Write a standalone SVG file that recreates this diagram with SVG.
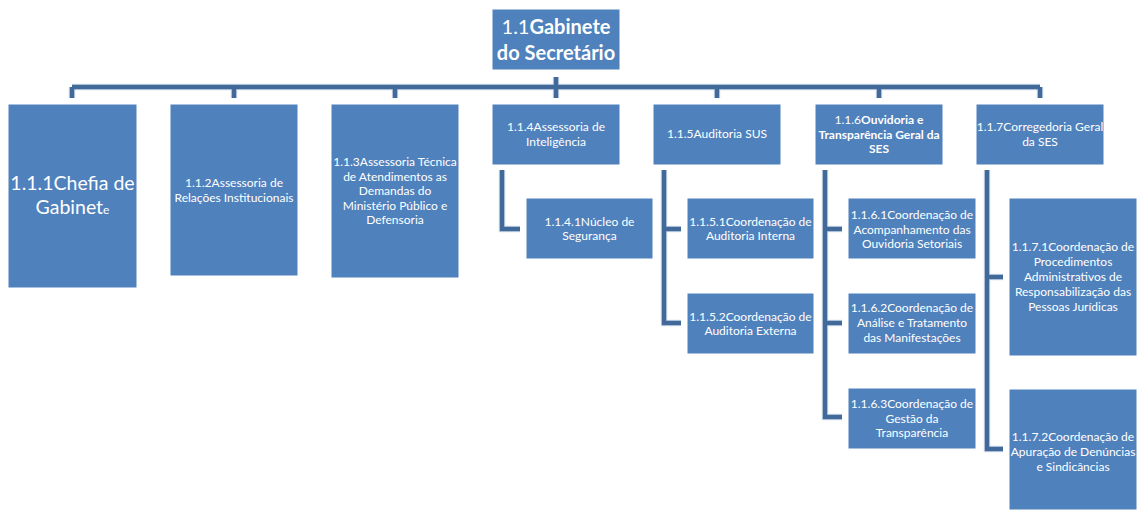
<svg xmlns="http://www.w3.org/2000/svg" width="1139" height="510" viewBox="0 0 1139 510">
<style>
.box{fill:#4F81BD;stroke:#FFFFFF;stroke-width:1}
.t{font-family:Lato,"Open Sans","Liberation Sans",sans-serif;font-size:12px;fill:#FFFFFF;text-anchor:middle}
.b{font-weight:bold}
.c{fill:none;stroke:#41699A;stroke-width:4.5;stroke-linejoin:miter;stroke-linecap:butt}
.ch{fill:none;stroke:#D3DEEC;stroke-width:6.5}
</style>
<rect width="1139" height="510" fill="#FFFFFF"/>
<g id="connectors">
<path class="ch" d="M72,87 H1040 M556,77 V98 M72,87 V98 M234,87 V98 M395,87 V98 M717,87 V98 M879,87 V98 M1040,87 V98 M502,170 V229 H520 M664,170 V323 H681 M664,229 H681 M825,170 V417 H842 M825,229 H842 M825,323 H842 M987,170 V449 H1003 M987,277 H1003"/>
<path class="c" d="M72,87 H1040 M556,77 V98 M72,87 V98 M234,87 V98 M395,87 V98 M717,87 V98 M879,87 V98 M1040,87 V98"/>
<path class="c" d="M502,170 V229 H520"/>
<path class="c" d="M664,170 V323 H681 M664,229 H681"/>
<path class="c" d="M825,170 V417 H842 M825,229 H842 M825,323 H842"/>
<path class="c" d="M987,170 V449 H1003 M987,277 H1003"/>
</g>
<g id="n1-1">
<rect class="box" x="492" y="9" width="128" height="61"/>
<text class="t" x="556" y="34" style="font-size:20px"><tspan>1.1</tspan><tspan class="b">Gabinete</tspan></text>
<text class="t b" x="556" y="60" style="font-size:20px">do Secretário</text>
</g>
<g id="n1-1-1">
<rect class="box" x="8" y="104" width="129" height="184"/>
<text class="t" x="72.5" y="190" style="font-size:19.5px">1.1.1Chefia de</text>
<text class="t" x="72.5" y="214" style="font-size:19.5px">Gabinet<tspan style="font-size:12px">e</tspan></text>
</g>
<g id="n1-1-2">
<rect class="box" x="170" y="104" width="128" height="172"/>
<text class="t" x="234" y="187">1.1.2Assessoria de</text>
<text class="t" x="234" y="202">Relações Institucionais</text>
</g>
<g id="n1-1-3">
<rect class="box" x="331" y="104" width="128" height="174"/>
<text class="t" x="395" y="166">1.1.3Assessoria Técnica</text>
<text class="t" x="395" y="180.5">de Atendimentos as</text>
<text class="t" x="395" y="195">Demandas do</text>
<text class="t" x="395" y="209.5">Ministério Público e</text>
<text class="t" x="395" y="224">Defensoria</text>
</g>
<g id="n1-1-4">
<rect class="box" x="492" y="104" width="128" height="61"/>
<text class="t" x="556" y="131">1.1.4Assessoria de</text>
<text class="t" x="556" y="146">Inteligência</text>
</g>
<g id="n1-1-4-1">
<rect class="box" x="526" y="198" width="127" height="61"/>
<text class="t" x="589.5" y="226">1.1.4.1Núcleo de</text>
<text class="t" x="589.5" y="240">Segurança</text>
</g>
<g id="n1-1-5">
<rect class="box" x="653" y="104" width="128" height="61"/>
<text class="t" x="717" y="138">1.1.5Auditoria SUS</text>
</g>
<g id="n1-1-5-1">
<rect class="box" x="687" y="198" width="127" height="61"/>
<text class="t" x="750.5" y="226">1.1.5.1Coordenação de</text>
<text class="t" x="750.5" y="240">Auditoria Interna</text>
</g>
<g id="n1-1-5-2">
<rect class="box" x="687" y="293" width="127" height="61"/>
<text class="t" x="750.5" y="321">1.1.5.2Coordenação de</text>
<text class="t" x="750.5" y="335">Auditoria Externa</text>
</g>
<g id="n1-1-6">
<rect class="box" x="815" y="104" width="128" height="61"/>
<text class="t" x="879" y="124"><tspan>1.1.6</tspan><tspan class="b">Ouvidoria e</tspan></text>
<text class="t b" x="879" y="138.5">Transparência Geral da</text>
<text class="t b" x="879" y="153">SES</text>
</g>
<g id="n1-1-6-1">
<rect class="box" x="848" y="198" width="128" height="61"/>
<text class="t" x="912" y="219">1.1.6.1Coordenação de</text>
<text class="t" x="912" y="233.5">Acompanhamento das</text>
<text class="t" x="912" y="247.5">Ouvidoria Setoriais</text>
</g>
<g id="n1-1-6-2">
<rect class="box" x="848" y="293" width="128" height="61"/>
<text class="t" x="912" y="312">1.1.6.2Coordenação de</text>
<text class="t" x="912" y="327">Análise e Tratamento</text>
<text class="t" x="912" y="342">das Manifestações</text>
</g>
<g id="n1-1-6-3">
<rect class="box" x="848" y="388" width="128" height="61"/>
<text class="t" x="912" y="408">1.1.6.3Coordenação de</text>
<text class="t" x="912" y="422.5">Gestão da</text>
<text class="t" x="912" y="437">Transparência</text>
</g>
<g id="n1-1-7">
<rect class="box" x="976" y="104" width="128" height="61"/>
<text class="t" x="1040" y="131">1.1.7Corregedoria Geral</text>
<text class="t" x="1040" y="146">da SES</text>
</g>
<g id="n1-1-7-1">
<rect class="box" x="1009" y="198" width="128" height="158"/>
<text class="t" x="1073" y="251">1.1.7.1Coordenação de</text>
<text class="t" x="1073" y="266">Procedimentos</text>
<text class="t" x="1073" y="281">Administrativos de</text>
<text class="t" x="1073" y="296">Responsabilização das</text>
<text class="t" x="1073" y="311">Pessoas Jurídicas</text>
</g>
<g id="n1-1-7-2">
<rect class="box" x="1009" y="389" width="128" height="121"/>
<text class="t" x="1073" y="441">1.1.7.2Coordenação de</text>
<text class="t" x="1073" y="456">Apuração de Denúncias</text>
<text class="t" x="1073" y="471">e Sindicâncias</text>
</g>
</svg>
